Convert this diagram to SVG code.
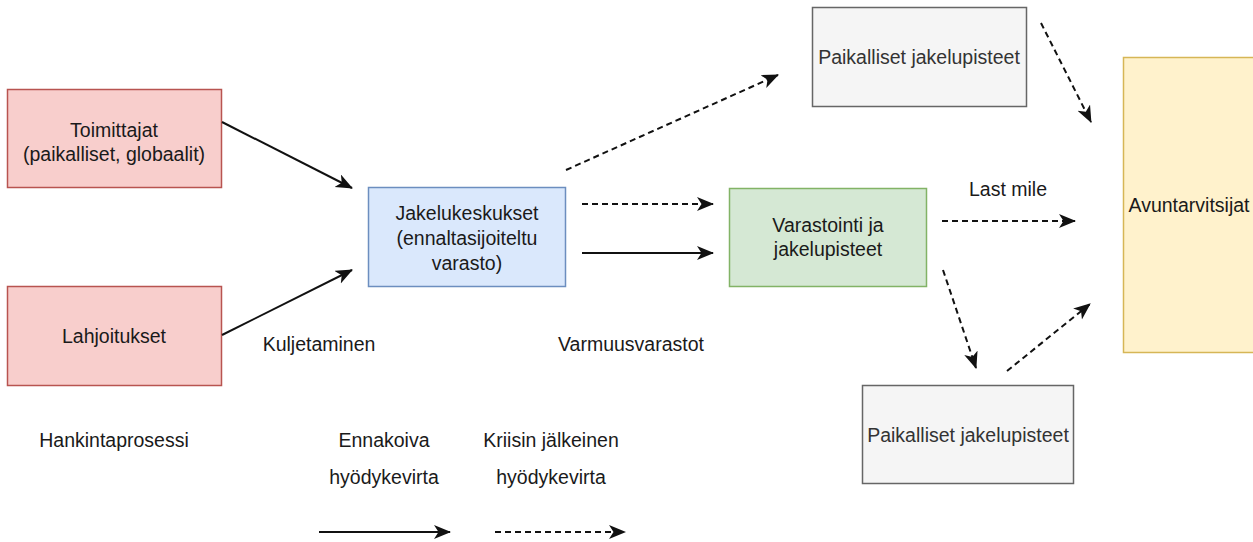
<svg xmlns="http://www.w3.org/2000/svg" width="1253" height="542" viewBox="0 0 1253 542">
<style>
text{font-family:"Liberation Sans",Arial,sans-serif;font-size:19.5px;fill:#1a1a1a}
.c{text-anchor:middle}
.box{stroke-width:1.5}
.red{fill:#f8cecc;stroke:#b85450}
.blue{fill:#dae8fc;stroke:#6c8ebf}
.green{fill:#d5e8d4;stroke:#82b366}
.yellow{fill:#fff2cc;stroke:#d6b656}
.gray{fill:#f5f5f5;stroke:#666666}
.gt{fill:#333333}
.ln{fill:none;stroke:#111;stroke-width:2}
.dash{stroke-dasharray:6 4}
</style>
<defs>
<marker id="ah" markerUnits="userSpaceOnUse" markerWidth="18" markerHeight="16" refX="16" refY="7" orient="auto">
<path d="M0,0 L17,7 L0,14 L4.5,7 Z" fill="#111"/>
</marker>
</defs>
<rect width="1253" height="542" fill="#ffffff"/>
<g id="toimittajat">
<rect class="box red" x="7.5" y="89.5" width="214" height="98"/>
<text class="c" x="114" y="137">Toimittajat</text>
<text class="c" x="114" y="161">(paikalliset, globaalit)</text>
</g>
<g id="lahjoitukset">
<rect class="box red" x="7.5" y="286.5" width="214" height="99"/>
<text class="c" x="114" y="343">Lahjoitukset</text>
</g>
<g id="jakelukeskukset">
<rect class="box blue" x="368.5" y="187.5" width="197" height="99"/>
<text class="c" x="467" y="220">Jakelukeskukset</text>
<text class="c" x="467" y="245">(ennaltasijoiteltu</text>
<text class="c" x="467" y="270">varasto)</text>
</g>
<g id="paikalliset-top">
<rect class="box gray" x="812.5" y="7.5" width="214" height="99"/>
<text class="c gt" x="919" y="64">Paikalliset jakelupisteet</text>
</g>
<g id="varastointi">
<rect class="box green" x="729.5" y="188.5" width="197" height="98"/>
<text class="c" x="828" y="232">Varastointi ja</text>
<text class="c" x="828" y="256">jakelupisteet</text>
</g>
<g id="paikalliset-bottom">
<rect class="box gray" x="862.5" y="385.5" width="211" height="98"/>
<text class="c gt" x="968" y="442">Paikalliset jakelupisteet</text>
</g>
<g id="avuntarvitsijat">
<rect class="box yellow" x="1123.5" y="57.5" width="140" height="295"/>
<text class="c" x="1189" y="212">Avuntarvitsijat</text>
</g>
<g id="labels">
<text class="c" x="319" y="351">Kuljetaminen</text>
<text x="558" y="351">Varmuusvarastot</text>
<text class="c" x="1008" y="196">Last mile</text>
<text class="c" x="114" y="447">Hankintaprosessi</text>
<text class="c" x="384" y="447">Ennakoiva</text>
<text class="c" x="384" y="484">hyödykevirta</text>
<text class="c" x="551" y="447">Kriisin jälkeinen</text>
<text class="c" x="551" y="484">hyödykevirta</text>
</g>
<g id="connectors">
<line class="ln" x1="222" y1="122" x2="352" y2="188" marker-end="url(#ah)"/>
<line class="ln" x1="222" y1="335" x2="352" y2="270" marker-end="url(#ah)"/>
<line class="ln dash" x1="566" y1="170" x2="778" y2="75" marker-end="url(#ah)"/>
<line class="ln dash" x1="582" y1="204" x2="713" y2="204" marker-end="url(#ah)"/>
<line class="ln" x1="582" y1="253" x2="713" y2="253" marker-end="url(#ah)"/>
<line class="ln dash" x1="942" y1="221" x2="1075" y2="221" marker-end="url(#ah)"/>
<line class="ln dash" x1="1041" y1="23" x2="1091" y2="122" marker-end="url(#ah)"/>
<line class="ln dash" x1="943" y1="270" x2="976" y2="368" marker-end="url(#ah)"/>
<line class="ln dash" x1="1007" y1="371" x2="1090" y2="304" marker-end="url(#ah)"/>
<line class="ln" x1="319" y1="532" x2="450" y2="532" marker-end="url(#ah)"/>
<line class="ln dash" x1="495" y1="532" x2="625" y2="532" marker-end="url(#ah)"/>
</g>
</svg>
